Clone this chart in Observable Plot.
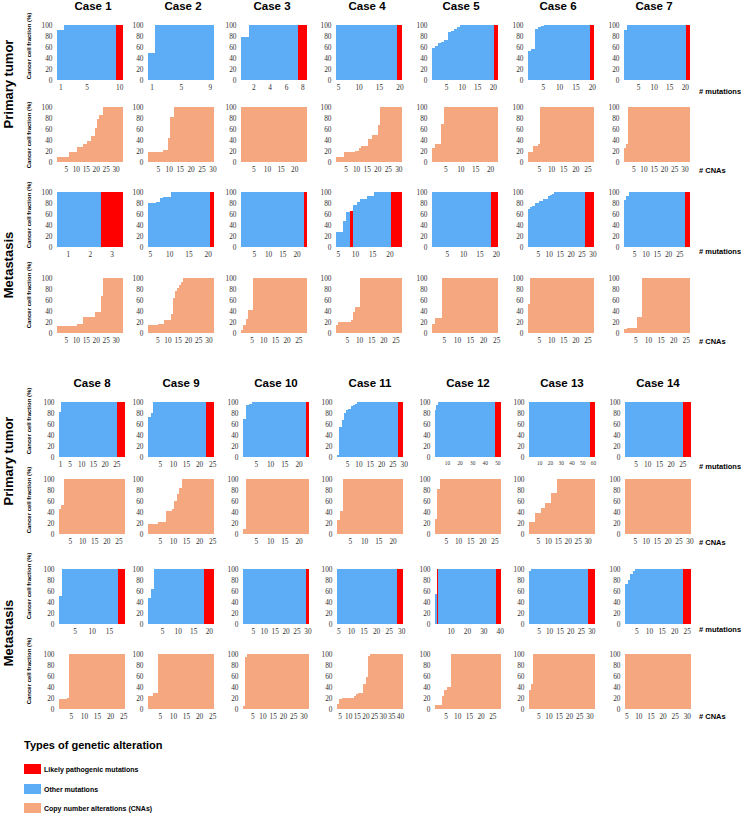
<!DOCTYPE html>
<html><head><meta charset="utf-8">
<script src="https://cdn.jsdelivr.net/npm/d3@7"></script>
<script src="https://cdn.jsdelivr.net/npm/@observablehq/plot@0.6"></script>
<style>
body{margin:0;background:#fff;}
#chart{position:relative;width:741px;height:814px;overflow:hidden;background:#fff;font-family:"Liberation Sans",Arial,sans-serif;color:#000;}
.t{position:absolute;white-space:nowrap;transform:translate(-50%,-50%);line-height:1;}
.l{position:absolute;white-space:nowrap;transform:translate(0,-50%);line-height:1;}
.hdr{font-weight:bold;font-size:11.5px;}
.grp{font-weight:bold;font-size:13px;}
.ytl{font-weight:bold;font-size:6px;}
.xtl{font-weight:bold;font-size:7.5px;}
.legt{font-weight:bold;font-size:11px;}
.legl{font-weight:bold;font-size:7px;}
.sw{position:absolute;width:17px;height:10px;}
svg{position:absolute;}
</style></head>
<body><div id="chart"></div>
<script>
// ---------------- DATA ----------------
const cases = ["Case 1","Case 2","Case 3","Case 4","Case 5","Case 6","Case 7",
               "Case 8","Case 9","Case 10","Case 11","Case 12","Case 13","Case 14"];
const typeNames = ["Likely pathogenic mutations","Other mutations","Copy number alterations (CNAs)"];
const typeColors = ["#ff0000","#5cadf6","#f5a780"];

// Cancer cell fraction (%) per sorted alteration, as [value, count] runs
const primaryMutStart = [1,1,1,5,1,1,1, 1,1,1,1,1,1,1];
const primaryMutRuns = [
  [[91,1],[100,9]],
  [[49,1],[100,8]],
  [[78,1],[100,7]],
  [[100,16]],
  [[58,1],[62,1],[68,1],[70,1],[73,1],[88,1],[90,1],[93,1],[97,1],[100,12]],
  [[53,1],[56,1],[92,1],[96,1],[99,1],[100,15]],
  [[91,1],[100,20]],
  [[82,1],[100,27]],
  [[72,1],[80,1],[100,23]],
  [[70,1],[95,1],[97,1],[100,20]],
  [[3,1],[55,1],[68,1],[80,1],[85,1],[88,1],[92,1],[95,1],[97,1],[100,20]],
  [[85,1],[95,1],[100,50]],
  [[100,61]],
  [[100,28]]
];
const primaryMutPathogenic = [[10],[],[8],[20],[21],[20],[21],[26,27,28],[23,24,25],[23],[28,29],[49,50,51,52],[58,59,60,61],[26,27,28]];
const primaryMutTicks = [[1,5,10],[1,5,9],[2,4,6,8],[5,10,15,20],[5,10,15,20],[5,10,15,20],[5,10,15,20],
  [1,5,10,15,20,25],[5,10,15,20,25],[5,10,15,20],[5,10,15,20,25,30],[10,20,30,40,50],[10,20,30,40,50,60],[5,10,15,20,25]];

const primaryCnaStart = [1,1,1,1,1,1,1, 1,1,1,1,1,1,1];
const primaryCnaRuns = [
  [[9,6],[19,4],[27,3],[33,2],[38,2],[48,2],[62,1],[78,1],[85,2],[100,10]],
  [[18,7],[22,2],[44,1],[82,2],[100,18]],
  [[100,24]],
  [[9,4],[19,5],[20,2],[26,1],[30,3],[41,2],[49,3],[68,1],[100,10]],
  [[26,1],[33,2],[70,1],[100,18]],
  [[18,2],[29,2],[33,1],[100,22]],
  [[26,1],[33,1],[100,30]],
  [[45,1],[53,1],[100,25]],
  [[19,4],[22,3],[42,2],[45,1],[60,1],[72,1],[84,1],[100,12]],
  [[10,1],[100,22]],
  [[25,1],[41,1],[100,21]],
  [[27,1],[82,1],[100,25]],
  [[21,3],[38,3],[48,2],[56,3],[74,3],[100,19]],
  [[100,30]]
];
const primaryCnaTicks = [[5,10,15,20,25,30],[5,10,15,20,25,30],[5,10,15,20],[5,10,15,20,25,30],[5,10,15,20],[5,10,15,20,25],[5,10,15,20,25,30],
  [5,10,15,20,25],[5,10,15,20,25],[5,10,15,20],[5,10,15,20],[5,10,15,20,25],[5,10,15,20,25,30],[5,10,15,20,25,30]];

const metMutStart = [1,5,1,5,1,1,1, 1,1,1,5,1,1,1];
const metMutRuns = [
  [[100,3]],
  [[80,2],[81,1],[89,1],[91,2],[100,11]],
  [[100,23]],
  [[28,2],[47,1],[64,1],[66,1],[77,1],[81,1],[87,2],[93,2],[100,8]],
  [[100,20]],
  [[70,1],[73,1],[74,1],[80,2],[83,1],[84,1],[88,2],[92,1],[94,1],[96,1],[100,18]],
  [[85,1],[92,1],[100,27]],
  [[51,1],[100,18]],
  [[48,1],[63,1],[100,19]],
  [[100,30]],
  [[100,26]],
  [[55,1],[100,39]],
  [[96,1],[100,30]],
  [[72,1],[80,1],[91,1],[97,1],[100,22]]
];
const metMutPathogenic = [[3],[21],[23],[9,21,22,23],[19,20],[27,28,29,30],[28,29],[18,19],[19,20,21],[30],[29,30],[2,38,39,40],[29,30,31],[24,25,26]];
const metMutTicks = [[1,2,3],[5,10,15,20],[5,10,15,20],[5,10,15,20],[5,10,15,20],[5,10,15,20,25,30],[5,10,15,20,25],
  [5,10,15],[5,10,15,20],[5,10,15,20,25,30],[5,10,15,20,25,30],[10,20,30,40],[5,10,15,20,25,30],[5,10,15,20,25]];

const metCnaStart = [1,1,1,1,1,1,1, 1,1,1,4,1,1,5];
const metCnaRuns = [
  [[12,10],[16,3],[29,6],[38,3],[67,1],[100,10]],
  [[14,5],[16,3],[24,3],[34,1],[64,1],[77,1],[82,1],[87,1],[93,1],[100,15]],
  [[5,1],[15,1],[25,1],[42,2],[100,23]],
  [[15,1],[20,5],[24,1],[38,1],[47,2],[100,17]],
  [[17,1],[27,3],[100,21]],
  [[52,1],[100,26]],
  [[8,1],[10,4],[30,2],[100,19]],
  [[18,2],[19,1],[20,1],[100,21]],
  [[24,2],[30,2],[100,21]],
  [[6,1],[95,1],[100,30]],
  [[9,1],[18,2],[20,7],[24,1],[28,1],[30,3],[45,2],[58,1],[97,1],[100,19]],
  [[7,3],[24,1],[35,1],[40,2],[100,21]],
  [[35,1],[46,1],[100,30]],
  [[100,27]]
];
const metCnaTicks = [[5,10,15,20,25,30],[5,10,15,20,25,30],[5,10,15,20,25],[5,10,15,20,25],[5,10,15,20,25],[5,10,15,20,25],[5,10,15,20,25],
  [5,10,15,20,25],[5,10,15,20,25],[5,10,15,20,25,30],[5,10,15,20,25,30,35,40],[5,10,15,20,25],[5,10,15,20,25,30],[5,10,15,20,25,30]];
const yTicks = [0,20,40,60,80,100];

// ---------------- LAYOUT ----------------
const chart = document.getElementById("chart");
const colLeft = [[56.5,148,241,336,432,528,624],[59,148,243,337,435,529,625]];
const rowTop = [[25,107,192,278],[402,479,569,654]];
const headerX = [[93,183,272,367,461,558,654],[92,181,276,370,468,562,658]];
const headerY = [7,384];
const rowLabelY = [[92,171,252,342],[467,543,630,717]];
const yTitleY = [[46,135,215,295],[421,500,586,671]];
const PW = 65.5, PH = 55, ML = 24, MR = 4, MT = 4, MB = 14;

function expand(start, runs, path, isCna){
  const out = []; let i = start;
  for (const [v, n] of runs) {
    for (let k = 0; k < n; k++) {
      out.push({i, v, type: isCna ? typeNames[2] : (path.includes(i) ? typeNames[0] : typeNames[1])});
      i++;
    }
  }
  return out;
}

function panel(data, ticks, left, top, small){
  const start = data[0].i, end = data[data.length-1].i;
  const svg = Plot.plot({
    width: ML+PW+MR, height: MT+PH+MB,
    marginLeft: ML, marginRight: MR, marginTop: MT, marginBottom: MB,
    style: {background:"transparent", overflow:"visible", fontFamily:"'Liberation Serif','Times New Roman',serif", fontSize:"7.3px", color:"#333"},
    x: {domain:[start-0.5, end+0.5], ticks, tickSize:0, tickPadding:4, label:null, tickFormat: d => String(d)},
    y: {domain:[0,100], ticks:yTicks, tickSize:0, tickPadding:5, label:null},
    color: {domain:typeNames, range:typeColors},
    marks: [
      Plot.rect(data, {x1: d => d.i-0.5, x2: d => d.i+0.5, y1: 0, y2: "v", fill:"type", shapeRendering:"crispEdges"})
    ]
  });
  svg.style.left = (left-ML)+"px";
  svg.style.top = (top-MT)+"px";
  if (small) {
    svg.querySelectorAll('[aria-label="x-axis tick label"] text, [aria-label="x-axis"] text').forEach(t => t.setAttribute("font-size","5.3"));
  }
  chart.appendChild(svg);
}

function addText(txt, x, y, cls, rot, leftAlign){
  const d = document.createElement("div");
  d.className = (leftAlign ? "l " : "t ") + cls;
  d.textContent = txt;
  d.style.left = x+"px"; d.style.top = y+"px";
  if (rot) d.style.transform = "translate(-50%,-50%) rotate(-90deg)";
  chart.appendChild(d);
}

for (let c = 0; c < 14; c++) {
  const b = c < 7 ? 0 : 1, col = c % 7;
  const L = colLeft[b][col];
  const R = rowTop[b];
  panel(expand(primaryMutStart[c], primaryMutRuns[c], primaryMutPathogenic[c], false), primaryMutTicks[c], L, R[0], c === 11 || c === 12);
  panel(expand(primaryCnaStart[c], primaryCnaRuns[c], [], true), primaryCnaTicks[c], L, R[1], false);
  panel(expand(metMutStart[c], metMutRuns[c], metMutPathogenic[c], false), metMutTicks[c], L, R[2], false);
  panel(expand(metCnaStart[c], metCnaRuns[c], [], true), metCnaTicks[c], L, R[3], false);
  addText(cases[c], headerX[b][col], headerY[b], "hdr");
}

const rowNames = ["# mutations","# CNAs","# mutations","# CNAs"];
for (let b = 0; b < 2; b++) {
  for (let r = 0; r < 4; r++) {
    addText(rowNames[r], 699, rowLabelY[b][r], "xtl", false, true);
    addText("Cancer cell fraction (%)", 29, yTitleY[b][r], "ytl", true);
  }
}
addText("Primary tumor", 8, 84, "grp", true);
addText("Metastasis", 8, 265, "grp", true);
addText("Primary tumor", 8, 461, "grp", true);
addText("Metastasis", 8, 633, "grp", true);

// Legend
addText("Types of genetic alteration", 24, 745, "legt", false, true);
const legY = [769, 789, 808];
typeNames.forEach((n, k) => {
  const s = document.createElement("div");
  s.className = "sw"; s.style.left = "24px"; s.style.top = (legY[k]-5)+"px"; s.style.background = typeColors[k];
  chart.appendChild(s);
  addText(n, 44, legY[k], "legl", false, true);
});
</script>
</body></html>
